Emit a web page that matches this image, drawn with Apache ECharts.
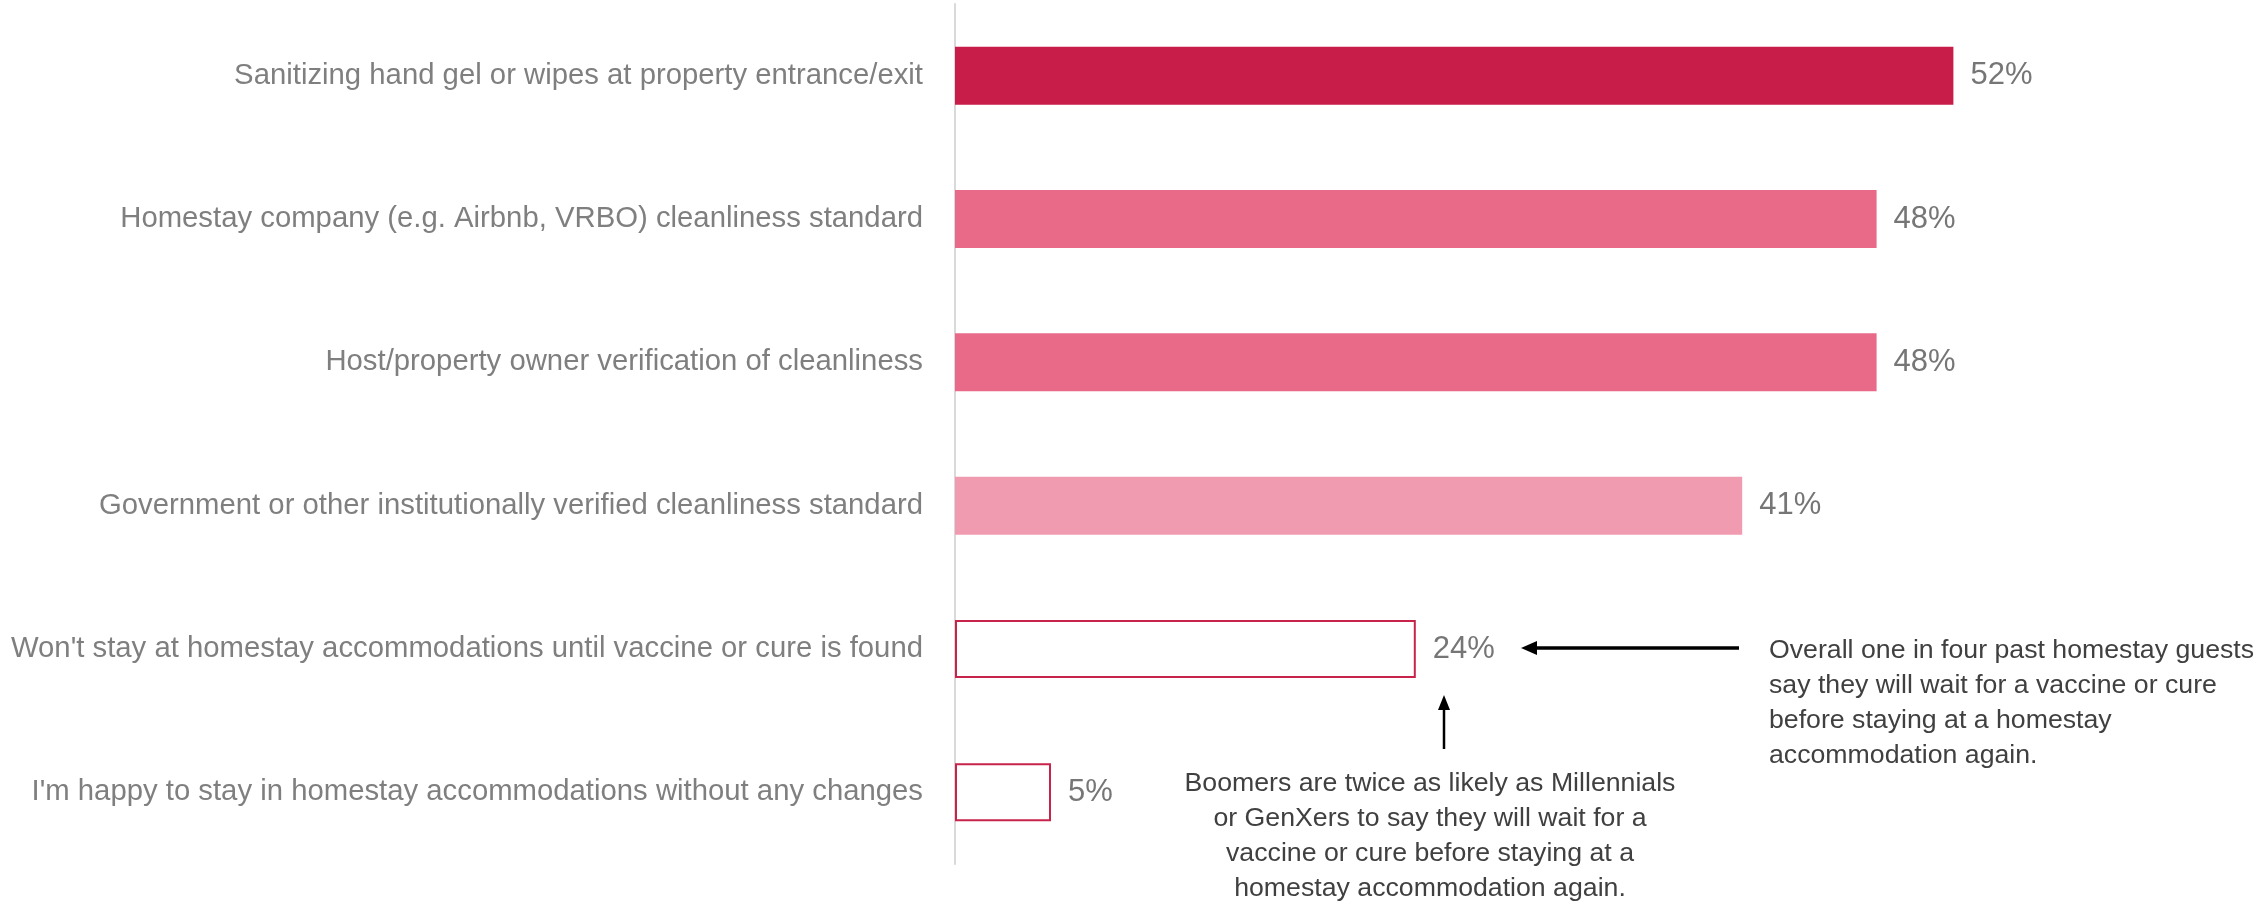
<!DOCTYPE html>
<html>
<head>
<meta charset="utf-8">
<script src="https://cdn.jsdelivr.net/npm/echarts@6/dist/echarts.min.js"></script>
<style>
  html, body { margin: 0; padding: 0; background: #ffffff; }
  #chart { width: 2259px; height: 904px; }
</style>
</head>
<body>
<div id="chart"></div>
<script>
// Survey: measures that would make past homestay guests comfortable staying again
const categories = [
  'Sanitizing hand gel or wipes at property entrance/exit',
  'Homestay company (e.g. Airbnb, VRBO) cleanliness standard',
  'Host/property owner verification of cleanliness',
  'Government or other institutionally verified cleanliness standard',
  "Won't stay at homestay accommodations until vaccine or cure is found",
  "I'm happy to stay in homestay accommodations without any changes"
];
const values = [52, 48, 48, 41, 24, 5];

const noteOverall = [
  'Overall one in four past homestay guests',
  'say they will wait for a vaccine or cure',
  'before staying at a homestay',
  'accommodation again.'
];
const noteBoomers = [
  'Boomers are twice as likely as Millennials',
  'or GenXers to say they will wait for a',
  'vaccine or cure before staying at a',
  'homestay accommodation again.'
];

// ---- styling ----
const FONT = "'Liberation Sans', Arial, sans-serif";
const barStyles = [
  { color: '#C81D48' },
  { color: '#E96A88' },
  { color: '#E96A88' },
  { color: '#F09BB0' },
  { color: '#ffffff', borderColor: '#C8234B', borderWidth: 2 },
  { color: '#ffffff', borderColor: '#C8234B', borderWidth: 2 }
];

const chart = echarts.init(document.getElementById('chart'), null, { renderer: 'canvas' });

chart.setOption({
  backgroundColor: '#ffffff',
  animation: false,
  grid: { left: 955, right: 152, top: 4, bottom: 40, containLabel: false },
  xAxis: {
    type: 'value', min: 0, max: 60,
    show: false,
    splitLine: { show: false }
  },
  yAxis: {
    type: 'category',
    inverse: true,
    data: categories,
    axisLine: { show: true, lineStyle: { color: '#d9d9d9', width: 2 } },
    axisTick: { show: false },
    splitLine: { show: false },
    axisLabel: {
      margin: 32,
      fontSize: 29.3,
      fontFamily: FONT,
      color: '#7f7f7f'
    }
  },
  series: [{
    type: 'bar',
    barWidth: 58,
    data: values.map((v, i) => ({ value: v, itemStyle: barStyles[i] })),
    label: {
      show: true,
      position: 'right',
      distance: 17,
      formatter: '{c}%',
      fontSize: 31,
      fontFamily: FONT,
      color: '#767676'
    }
  }]
});

// ---- annotations ----
const rowY = chart.convertToPixel({ gridIndex: 0 }, [0, 4])[1];
const arrowColor = '#000000';
const noteStyle = { fontSize: 26.7, fontFamily: FONT, fill: '#404040', lineHeight: 35 };

chart.setOption({
  graphic: [
    // left-pointing arrow toward the 24% label
    { type: 'line', shape: { x1: 1739, y1: rowY - 1, x2: 1534, y2: rowY - 1 },
      style: { stroke: arrowColor, lineWidth: 3.5 } },
    { type: 'polygon', shape: { points: [[1521, rowY - 1], [1537, rowY - 8], [1537, rowY + 6]] },
      style: { fill: arrowColor } },
    { type: 'text', x: 1769, y: rowY + 2 - 17.5,
      style: Object.assign({ text: noteOverall.join('\n'), align: 'left', verticalAlign: 'top' }, noteStyle) },

    // upward arrow under the 24% label
    { type: 'line', shape: { x1: 1444, y1: 749, x2: 1444, y2: 708 },
      style: { stroke: arrowColor, lineWidth: 2.5 } },
    { type: 'polygon', shape: { points: [[1444, 695], [1438, 710], [1450, 710]] },
      style: { fill: arrowColor } },
    { type: 'text', x: 1430, y: 766,
      style: Object.assign({ text: noteBoomers.join('\n'), align: 'center', verticalAlign: 'top' }, noteStyle) }
  ]
});
</script>
</body>
</html>
